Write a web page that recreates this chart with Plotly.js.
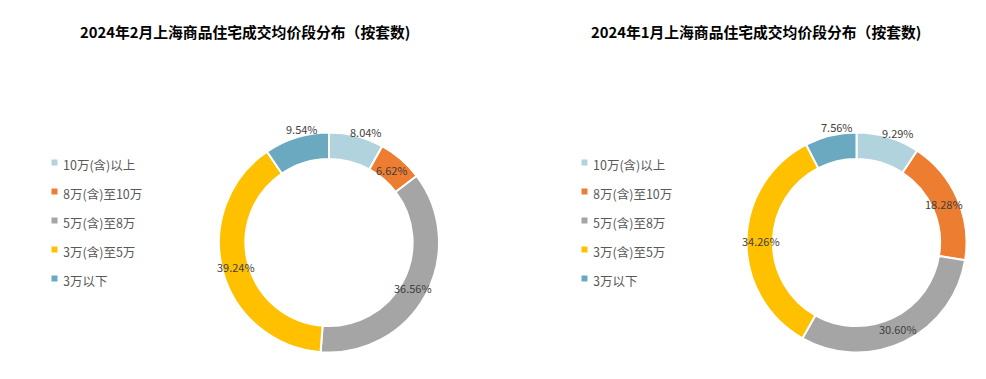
<!DOCTYPE html>
<html><head><meta charset="utf-8">
<script src="https://cdn.plot.ly/plotly-3.0.1.min.js"></script>
<style>html,body{margin:0;padding:0;background:#fff}#chart{width:986px;height:379px}
.legendpie{stroke-width:6px !important;stroke:#fff !important;transform:translate(31.5px,0px) !important}</style>
</head><body><div id="chart"></div>
<script>
const categories = ["10万(含)以上", "8万(含)至10万", "5万(含)至8万", "3万(含)至5万", "3万以下"];
const febValues = [8.04, 6.62, 36.56, 39.24, 9.54];
const janValues = [9.29, 18.28, 30.60, 34.26, 7.56];
const febTitle = "2024年2月上海商品住宅成交均价段分布（按套数)";
const janTitle = "2024年1月上海商品住宅成交均价段分布（按套数)";
const colors = ["#B0D3DE", "#ED7D31", "#A5A5A5", "#FFC000", "#6AA9BF"];
const febLabelOutside = [true, false, false, false, true];
const janLabelOutside = [true, false, false, false, true];

const W = 986, H = 379;
const font = "'Noto Sans CJK SC', 'Microsoft YaHei', sans-serif";
const R = 110;
function dom(cx, cy) {
  return {x: [(cx - R) / W, (cx + R) / W], y: [(H - (cy + R)) / H, (H - (cy - R)) / H]};
}
function pie(values, cx, cy, legend, suffix) {
  return {
    type: "pie", labels: categories.map(c => '<span style="font-size:12.5px">' + c + suffix + '</span>'),
    values: values, sort: false, direction: "clockwise", rotation: 0,
    hole: 0.76, domain: dom(cx, cy), legend: legend,
    marker: {colors: colors, line: {color: "#ffffff", width: 2}},
    textinfo: "none", hoverinfo: "label+value"
  };
}
// value labels placed along each slice's mid-angle (derived from the values)
function valueLabels(values, outside, cx, cy) {
  const total = values.reduce((a, b) => a + b, 0);
  let cum = 0;
  return values.map((v, i) => {
    const mid = (cum + v / 2) / total * 2 * Math.PI;
    cum += v;
    const r = outside[i] ? 117 : 96;
    const a = outside[i] ? mid + 4 * Math.PI / 180 : mid;
    const px = cx + r * Math.sin(a), py = cy - r * Math.cos(a);
    return {text: v.toFixed(2) + "%", x: px / W, y: 1 - py / H, xref: "paper", yref: "paper",
      showarrow: false, xanchor: "center", yanchor: "middle",
      font: {family: font, size: 11, color: "#404040"}};
  });
}
const febC = [329, 242.5], janC = [856.5, 242.5];
const data = [
  pie(febValues, febC[0], febC[1], "legend", ""),
  pie(janValues, janC[0], janC[1], "legend2", "\u200b")
];
const legendBase = {font: {family: font, size: 20, color: "#595959"}, bgcolor: "rgba(0,0,0,0)", yanchor: "top", xanchor: "left"};
const layout = {
  width: W, height: H, margin: {l: 0, r: 0, t: 0, b: 0}, paper_bgcolor: "#fff", showlegend: true,
  legend: Object.assign({}, legendBase, {x: 23 / W, y: 1 - 143 / H}),
  legend2: Object.assign({}, legendBase, {x: 553 / W, y: 1 - 143 / H}),
  annotations: [
    {text: "<b>" + febTitle + "</b>", x: 245 / W, y: 1 - 31 / H, xref: "paper", yref: "paper", showarrow: false, xanchor: "center", yanchor: "middle", font: {family: font, size: 14.8, color: "#000"}},
    {text: "<b>" + janTitle + "</b>", x: 756 / W, y: 1 - 31 / H, xref: "paper", yref: "paper", showarrow: false, xanchor: "center", yanchor: "middle", font: {family: font, size: 14.8, color: "#000"}}
  ].concat(valueLabels(febValues, febLabelOutside, febC[0], febC[1]))
   .concat(valueLabels(janValues, janLabelOutside, janC[0], janC[1]))
};
Plotly.newPlot("chart", data, layout, {displayModeBar: false, staticPlot: true});
</script></body></html>
